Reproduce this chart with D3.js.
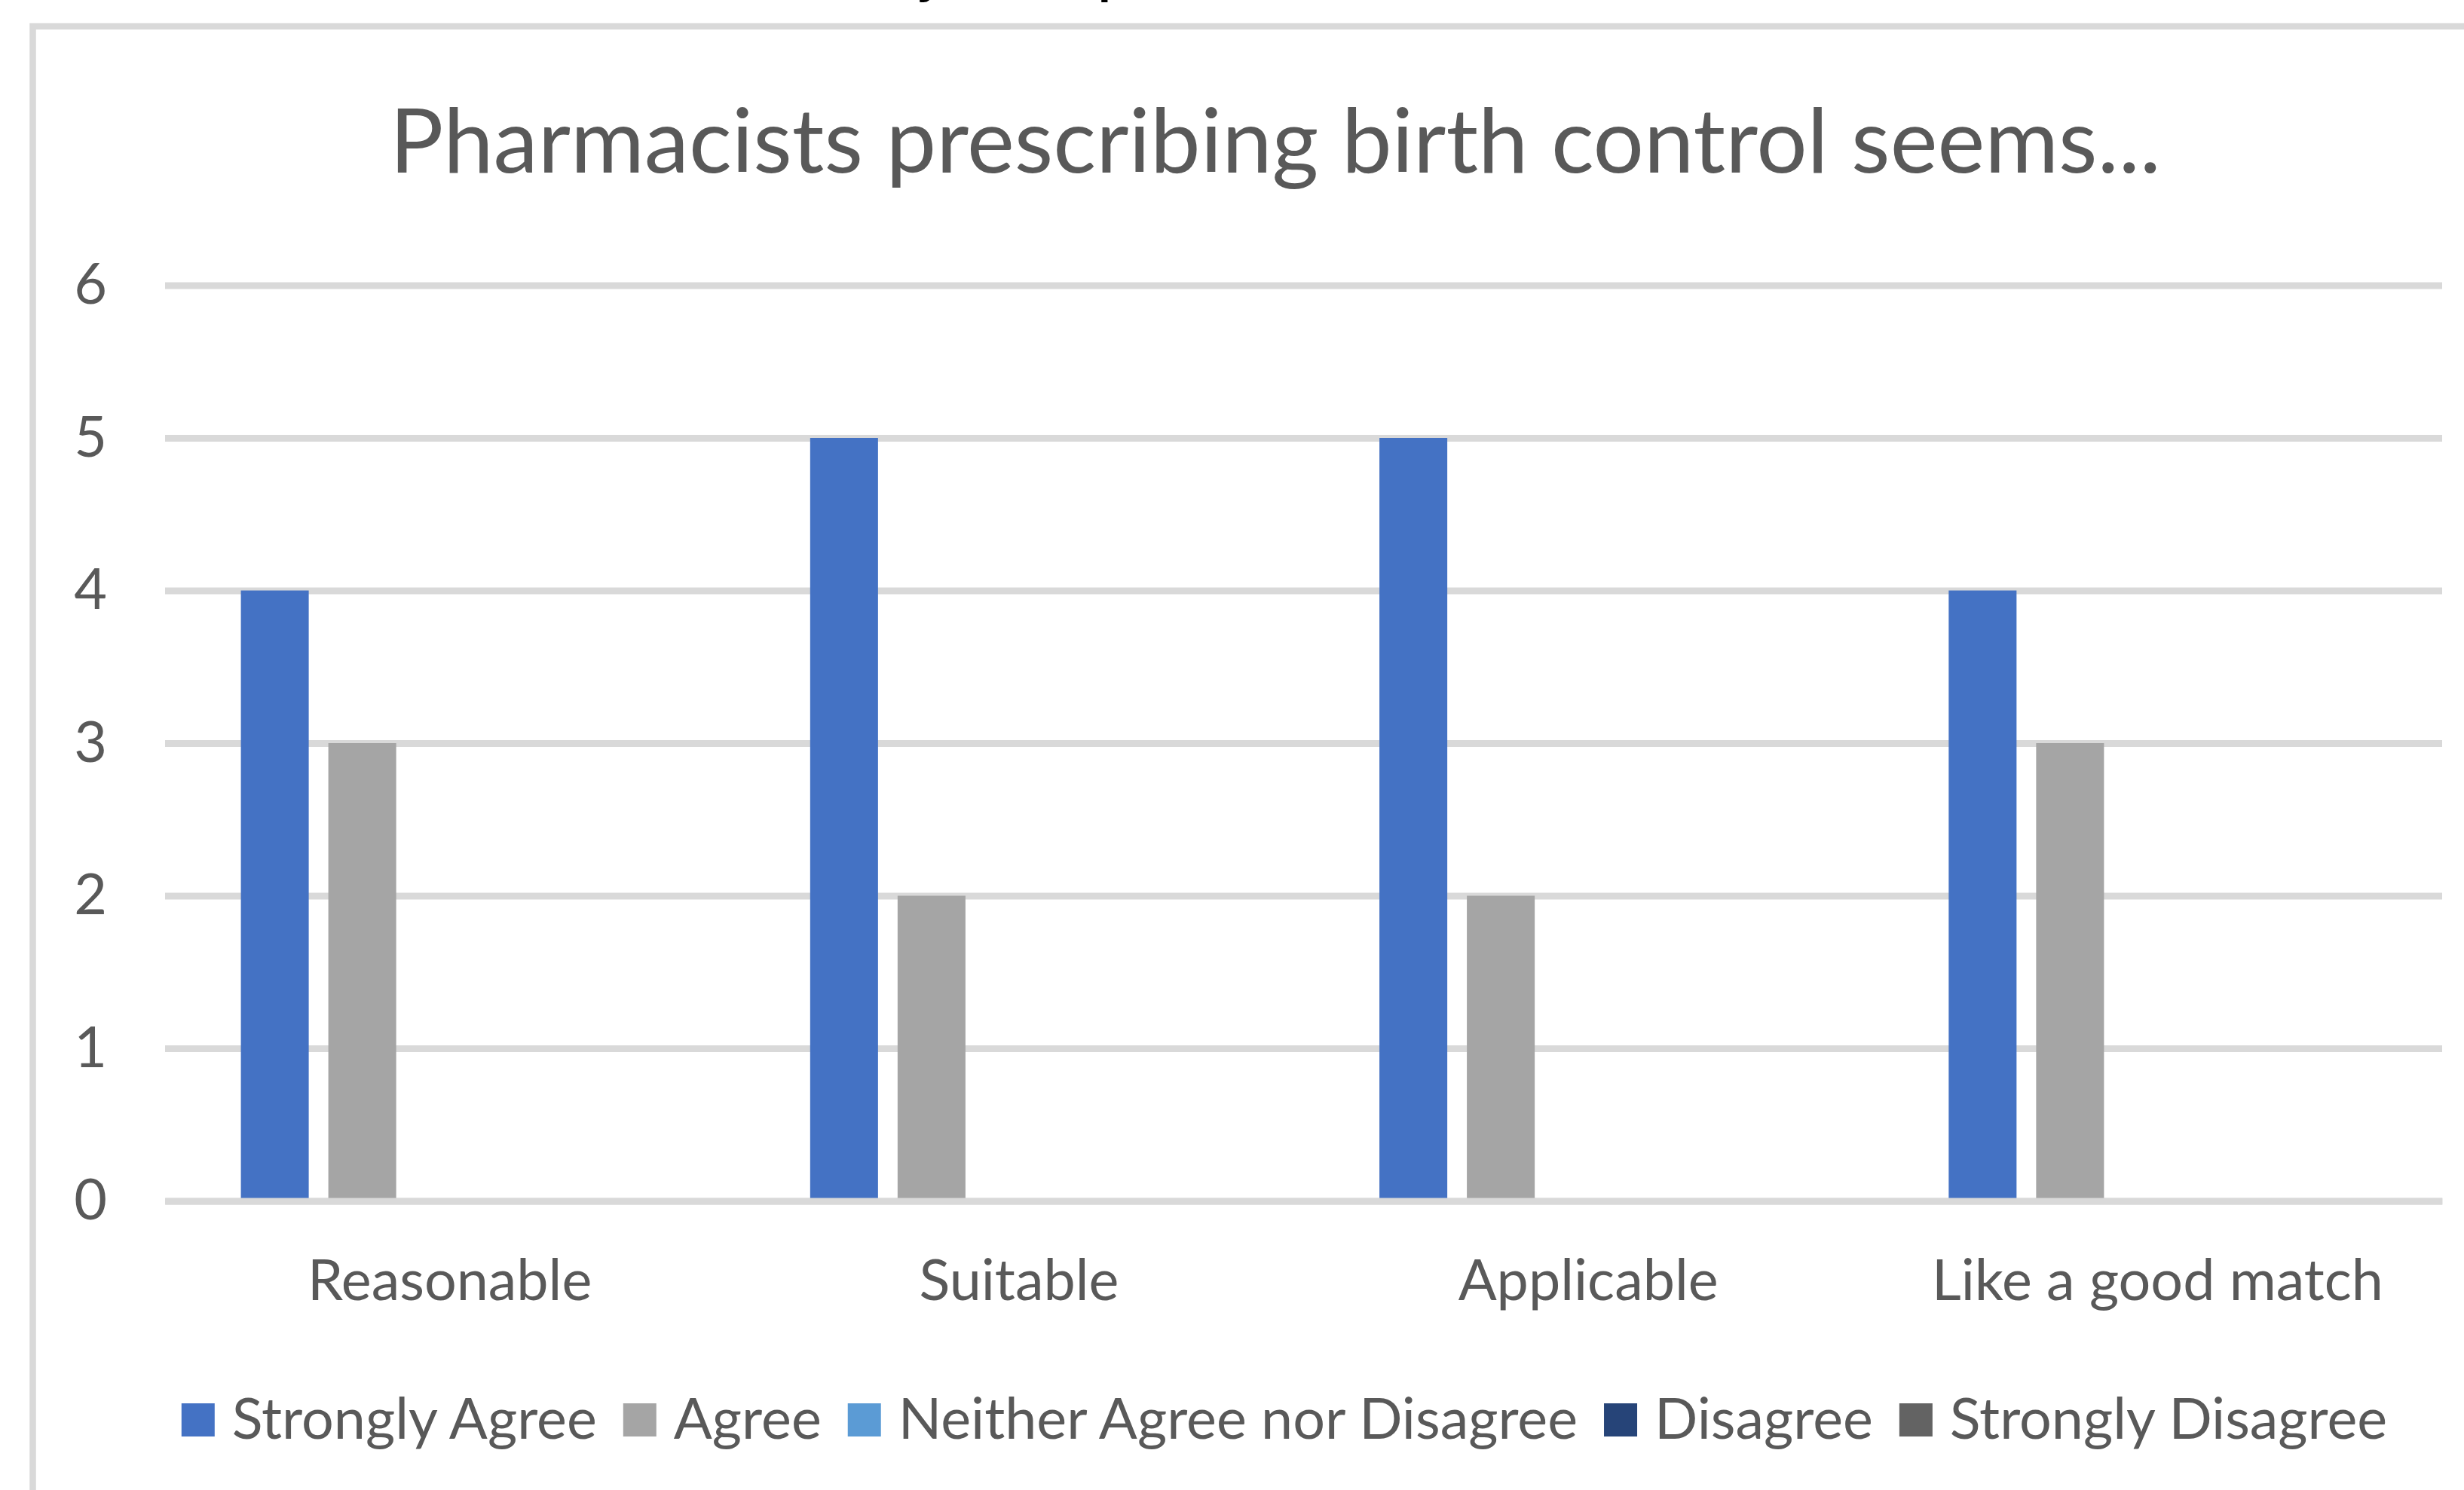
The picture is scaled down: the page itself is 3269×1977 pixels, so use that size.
<!DOCTYPE html>
<html><head><meta charset="utf-8">
<script src="https://cdn.jsdelivr.net/npm/d3@7"></script>
<style>html,body{margin:0;padding:0;background:#fff;overflow:hidden}</style>
</head><body>
<svg id="chart" width="3269" height="1977"></svg>
<script>
// ---------------- data ----------------
const categories = ["Reasonable", "Suitable", "Applicable", "Like a good match"];
const seriesNames = ["Strongly Agree", "Agree", "Neither Agree nor Disagree", "Disagree", "Strongly Disagree"];
const stronglyAgree = [4, 5, 5, 4];
const agree = [3, 2, 2, 3];
const neitherAgreeNorDisagree = [0, 0, 0, 0];
const disagree = [0, 0, 0, 0];
const stronglyDisagree = [0, 0, 0, 0];
const yTickValues = [0, 1, 2, 3, 4, 5, 6];
const seriesColors = ["#4472C4", "#A5A5A5", "#5B9BD5", "#264478", "#636363"];
const chartTitle = "Pharmacists prescribing birth control seems...";
const cutOffHeadingGlyphs = ["y", "p"];   // only descenders of a cropped heading are visible

// ---------------- layout ----------------
const W = 3269, H = 1977;
const FONT = "Lato, 'Open Sans', sans-serif";
const TEXT = "#595959", GRID = "#d9d9d9";
const plot = {left: 219, right: 3240, top: 378.5, bottom: 1593.5};

const svg = d3.select("#chart");
svg.append("rect").attr("width", W).attr("height", H).attr("fill", "#fff");

// chart area border (right/bottom edges fall outside the crop)
svg.append("rect")
  .attr("x", 43.5).attr("y", 35).attr("width", W + 100).attr("height", H + 100)
  .attr("fill", "none").attr("stroke", GRID).attr("stroke-width", 8.5);

// cropped heading fragments at top (the reference shows only their descenders)
const frag = svg.append("g").attr("font-family", "'Liberation Sans', Arial, sans-serif")
  .attr("font-weight", "bold").attr("fill", "#000").attr("font-size", 60);
frag.append("text").attr("x", 1217).attr("y", -9).text(cutOffHeadingGlyphs[0]);
frag.append("text").attr("x", 1457).attr("y", -9).text(cutOffHeadingGlyphs[1]);

// helper: font size that makes a string a given width
function fitSize(str, targetWidth, weight) {
  const t = svg.append("text").attr("font-family", FONT).attr("font-size", 100)
    .attr("font-weight", weight || "normal").text(str);
  const w = t.node().getComputedTextLength();
  t.remove();
  return 100 * targetWidth / w;
}
const titleSize = fitSize(chartTitle, 2350);
const labelSize = fitSize(categories[3], 599);

// title
svg.append("text").attr("x", 1692).attr("y", 229)
  .attr("text-anchor", "middle").attr("font-family", FONT)
  .attr("font-size", titleSize).attr("fill", TEXT).text(chartTitle);

// scales
const x0 = d3.scaleBand().domain(categories).range([plot.left, plot.right]).padding(0);
const x1 = d3.scaleBand().domain(seriesNames).range([0, x0.bandwidth()])
  .paddingInner(0.224).paddingOuter(0.867);
const y = d3.scaleLinear().domain([0, 6]).range([plot.bottom, plot.top]);
const color = d3.scaleOrdinal().domain(seriesNames).range(seriesColors);

// y axis with gridlines
const yAxis = svg.append("g").attr("transform", `translate(${plot.left},0)`)
  .call(d3.axisLeft(y).tickValues(yTickValues).tickFormat(d3.format("d"))
    .tickSize(-(plot.right - plot.left)).tickPadding(77));
yAxis.select(".domain").remove();
yAxis.selectAll(".tick line").attr("stroke", GRID).attr("stroke-width", 9);
yAxis.selectAll(".tick text").attr("font-family", FONT).attr("font-size", labelSize)
  .attr("fill", TEXT);

// bars
const seriesValues = [stronglyAgree, agree, neitherAgreeNorDisagree, disagree, stronglyDisagree];
const rows = categories.map((c, i) => ({
  cat: c,
  vals: seriesNames.map((s, j) => ({series: s, value: seriesValues[j][i]}))
}));
svg.append("g").selectAll("g").data(rows).join("g")
  .attr("transform", d => `translate(${x0(d.cat)},0)`)
  .selectAll("rect").data(d => d.vals).join("rect")
  .attr("x", d => x1(d.series))
  .attr("width", x1.bandwidth())
  .attr("y", d => y(d.value))
  .attr("height", d => y(0) - y(d.value))
  .attr("fill", d => color(d.series));

// horizontal axis line
const xAxis = svg.append("g").attr("transform", `translate(0,${y(0)})`)
  .call(d3.axisBottom(x0).tickSize(0).tickPadding(0));
xAxis.select(".domain").attr("stroke", GRID).attr("stroke-width", 9);
xAxis.selectAll(".tick text").attr("y", 1725 - y(0)).attr("dy", 0)
  .attr("font-family", FONT).attr("font-size", labelSize).attr("fill", TEXT);

// legend
const sq = 44, gapSqText = 23, gapItems = 35;
const leg = svg.append("g");
const items = seriesNames.map((s, i) => {
  const g = leg.append("g");
  g.append("rect").attr("width", sq).attr("height", sq).attr("y", 1862).attr("fill", seriesColors[i]);
  const t = g.append("text").attr("x", sq + gapSqText).attr("y", 1909)
    .attr("font-family", FONT).attr("font-size", labelSize).attr("fill", TEXT).text(s);
  return {g, w: sq + gapSqText + t.node().getComputedTextLength()};
});
const total = d3.sum(items, d => d.w) + gapItems * (items.length - 1);
let cx = 1704 - total / 2;
items.forEach(it => { it.g.attr("transform", `translate(${cx},0)`); cx += it.w + gapItems; });
</script>
</body></html>
